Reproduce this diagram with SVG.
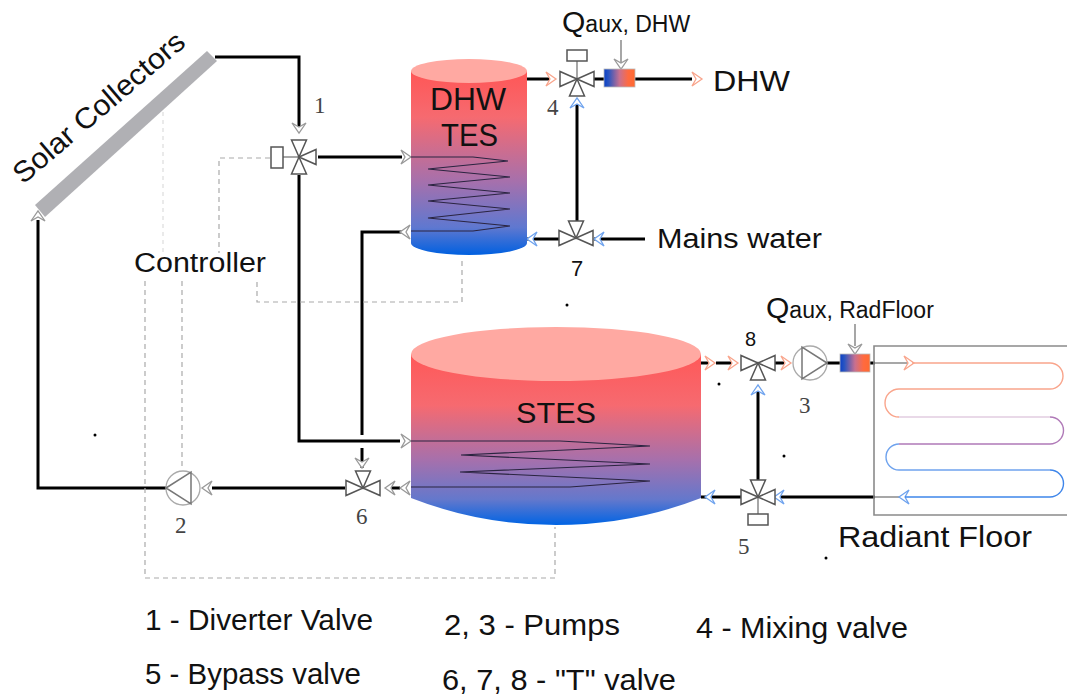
<svg xmlns="http://www.w3.org/2000/svg" xmlns:xlink="http://www.w3.org/1999/xlink" width="1067" height="697" viewBox="0 0 1067 697">
<style>
text{font-family:"Liberation Sans",Arial,sans-serif;fill:#111}
.num{font-family:"Liberation Serif","Times New Roman",serif;font-size:23px;fill:#444}
.leg{font-size:29px}
.pipe{fill:none;stroke:#000;stroke-width:3}
.thin{fill:none;stroke:#8a8a8a;stroke-width:1.5}
.dash{fill:none;stroke:#aaa;stroke-width:1.2;stroke-dasharray:5 4}
.tri{fill:#fff;stroke:#555;stroke-width:1.5}
.act{fill:#fff;stroke:#555;stroke-width:1.5}
.stem{stroke:#777;stroke-width:1.3;fill:none}
.chev{fill:#fff;stroke:#999;stroke-width:1.3}
.chev.o{stroke:#f9a58c}
.chev.b{stroke:#6fa3ee}
.coil{fill:none;stroke:#2a2440;stroke-width:1.1}
.rf{fill:none;stroke-width:1.4}
</style>
<defs>
<linearGradient id="gDhw" x1="0" y1="0" x2="0" y2="1"><stop offset="0" stop-color="#ff5656"/><stop offset=".25" stop-color="#f66a70"/><stop offset=".6" stop-color="#a670ac"/><stop offset=".85" stop-color="#5f78d0"/><stop offset="1" stop-color="#0060e0"/></linearGradient>
<linearGradient id="gSt" x1="0" y1="0" x2="0" y2="1"><stop offset="0" stop-color="#ff5858"/><stop offset=".3" stop-color="#f66a70"/><stop offset=".62" stop-color="#a670ac"/><stop offset=".85" stop-color="#6478cc"/><stop offset="1" stop-color="#0064e4"/></linearGradient>
<linearGradient id="gHeat" x1="0" y1="0" x2="1" y2="0"><stop offset="0" stop-color="#0a40c8"/><stop offset=".15" stop-color="#2b55c0"/><stop offset=".5" stop-color="#c87090"/><stop offset=".78" stop-color="#ff6a40"/><stop offset="1" stop-color="#ff6a30"/></linearGradient>
<path id="t" d="M0,0 L-17,-7.5 L-17,7.5 Z"/>
<path id="c" d="M-8,-7 L2,0 L-8,7 L-4,0 Z"/>
</defs>

<g id="connectors">
<path class="pipe" d="M215,57 H299 V130"/>
<path class="pipe" d="M299,175 V441 H400"/>
<path class="pipe" d="M318,157 H402"/>
<path class="pipe" d="M362,435 V232 H402"/>
<path class="pipe" d="M362,448 V468"/>
<path class="pipe" d="M345,488 H212"/>
<path class="pipe" d="M400,488 H388"/>
<path class="pipe" d="M166,488 H38 V220"/>
<path class="pipe" d="M527,79 H552"/>
<path class="pipe" d="M605,79 H592"/>
<path class="pipe" d="M635,79 H692"/>
<path class="pipe" d="M577,104 V222"/>
<path class="pipe" d="M527,239 H559"/>
<path class="pipe" d="M594,239 H645"/>
<path class="pipe" d="M701,363 H710"/>
<path class="pipe" d="M716,363 H735"/>
<path class="pipe" d="M775,363 H784"/>
<path class="pipe" d="M827,363 H840"/>
<path class="pipe" d="M870,363 H875"/>
<path class="pipe" d="M758,390 V480"/>
<path class="pipe" d="M701,497 H741"/>
<path class="pipe" d="M780,497 H875"/>
<path class="thin" d="M875,363 H910"/>
<path class="thin" d="M875,497 H900"/>
<path class="dash" d="M270,158 H219 V253"/>
<path class="dash" d="M257,282 V302 H462 V258"/>
<path class="dash" d="M145,281 V578 H555 V527"/>
<path class="dash" d="M182,281 V470"/>
<path d="M163,112 V252" fill="none" stroke="#ddd" stroke-width="1.2" stroke-dasharray="4 4"/>
<path class="stem" d="M621,40 V64"/>
<path class="stem" d="M855,324 V346"/>
<use href="#c" class="chev" transform="translate(299,131) rotate(90)"/>
<use href="#c" class="chev" transform="translate(409,157)"/>
<use href="#c" class="chev" transform="translate(402,232) rotate(180)"/>
<use href="#c" class="chev" transform="translate(409,441)"/>
<use href="#c" class="chev" transform="translate(402,488) rotate(180)"/>
<use href="#c" class="chev" transform="translate(38,213) rotate(-90)"/>
<use href="#c" class="chev" transform="translate(204,488) rotate(180)"/>
<use href="#c" class="chev" transform="translate(362,466) rotate(90)"/>
<use href="#c" class="chev" transform="translate(387,488) rotate(180)"/>
<use href="#c" class="chev" transform="translate(621,67) rotate(90)"/>
<use href="#c" class="chev" transform="translate(855,352) rotate(90)"/>
<use href="#c" class="chev o" transform="translate(554,79)"/>
<use href="#c" class="chev o" transform="translate(700,79)"/>
<use href="#c" class="chev b" transform="translate(577,100) rotate(-90)"/>
<use href="#c" class="chev b" transform="translate(529,239) rotate(180)"/>
<use href="#c" class="chev b" transform="translate(596,239) rotate(180)"/>
<use href="#c" class="chev o" transform="translate(713,363)"/>
<use href="#c" class="chev o" transform="translate(736,363)"/>
<use href="#c" class="chev o" transform="translate(789,363)"/>
<use href="#c" class="chev o" transform="translate(912,363)"/>
<use href="#c" class="chev b" transform="translate(758,387) rotate(-90)"/>
<use href="#c" class="chev b" transform="translate(707,497) rotate(180)"/>
<use href="#c" class="chev b" transform="translate(776,497) rotate(180)"/>
<use href="#c" class="chev b" transform="translate(901,497) rotate(180)"/>
</g>

<g id="solar-collectors">
<polygon points="207,51 217,61 45,217 35,205" fill="#b0b0b4"/>
<text transform="translate(23,185) rotate(-40.5)" font-size="29" textLength="216" lengthAdjust="spacingAndGlyphs">Solar Collectors</text>
</g>

<g id="dhw-tes">
<path d="M411,71 V243 A58,12 0 0 0 527,243 V71 Z" fill="url(#gDhw)"/>
<ellipse cx="469" cy="71" rx="58" ry="12" fill="#ffa9a2"/>
<path class="coil" d="M411,157 H473 L508,161 L428,169 L510,177 L428,185 L510,193 L428,201 L510,209 L428,218 L510,226 L473,231 H411"/>
<text x="430" y="110" font-size="31" textLength="76" lengthAdjust="spacingAndGlyphs">DHW</text>
<text x="441" y="146" font-size="31" textLength="57" lengthAdjust="spacingAndGlyphs">TES</text>
</g>

<g id="stes">
<path d="M411,354 V498 Q480,525 556,525 Q632,525 701,498 V354 Z" fill="url(#gSt)"/>
<ellipse cx="556" cy="354" rx="145" ry="27" fill="#ffa9a2"/>
<path class="coil" d="M411,441 H560 L650,446 L461,455 L650,464 L460,472 L650,481 L570,487 H411"/>
<text x="516" y="423" font-size="30" textLength="80" lengthAdjust="spacingAndGlyphs">STES</text>
</g>

<g id="radiant-floor">
<path d="M1067,346 H874 V515 H1067" fill="none" stroke="#8a8a8a" stroke-width="1.6"/>
<path class="rf" stroke="#f9a58c" d="M912,363 H1050 A13,13 0 0 1 1050,389 H899 A14,14 0 0 0 899,417"/>
<path class="rf" stroke="#e2cce0" d="M899,417 H1050"/>
<path class="rf" stroke="#b07ab8" d="M1050,417 A13.5,13.5 0 0 1 1050,444 H899"/>
<path class="rf" stroke="#6fa3ee" d="M899,444 A13,13 0 0 0 899,470 H1050"/>
<path class="rf" stroke="#3f86ea" d="M1050,470 A13.5,13.5 0 0 1 1050,497 H905"/>
<text x="838" y="547" font-size="29" textLength="194" lengthAdjust="spacingAndGlyphs">Radiant Floor</text>
</g>

<g id="valve-1">
<path class="stem" d="M281,157 H299"/>
<rect class="act" x="271" y="147" width="12" height="21"/>
<use href="#t" class="tri" transform="translate(299,157) rotate(90)"/>
<use href="#t" class="tri" transform="translate(299,157) rotate(-90)"/>
<use href="#t" class="tri" transform="translate(299,157) rotate(180)"/>
<text class="num" x="314" y="113">1</text>
</g>
<g id="valve-4">
<path class="stem" d="M577,61 V79"/>
<rect class="act" x="567" y="50" width="20" height="11"/>
<use href="#t" class="tri" transform="translate(577,79)"/>
<use href="#t" class="tri" transform="translate(577,79) rotate(180)"/>
<use href="#t" class="tri" transform="translate(577,79) rotate(-90)"/>
<text class="num" x="547" y="115">4</text>
</g>
<g id="valve-7">
<use href="#t" class="tri" transform="translate(576,238)"/>
<use href="#t" class="tri" transform="translate(576,238) rotate(180)"/>
<use href="#t" class="tri" transform="translate(576,238) rotate(90)"/>
<text x="571" y="276" font-size="22" fill="#333">7</text>
</g>
<g id="valve-8">
<use href="#t" class="tri" transform="translate(758,363)"/>
<use href="#t" class="tri" transform="translate(758,363) rotate(180)"/>
<use href="#t" class="tri" transform="translate(758,363) rotate(-90)"/>
<text x="745" y="346" font-size="20">8</text>
</g>
<g id="valve-5">
<path class="stem" d="M758,497 V514"/>
<rect class="act" x="748" y="514" width="20" height="11"/>
<use href="#t" class="tri" transform="translate(758,497)"/>
<use href="#t" class="tri" transform="translate(758,497) rotate(180)"/>
<use href="#t" class="tri" transform="translate(758,497) rotate(90)"/>
<text class="num" x="738" y="554">5</text>
</g>
<g id="valve-6">
<use href="#t" class="tri" transform="translate(363,488)"/>
<use href="#t" class="tri" transform="translate(363,488) rotate(180)"/>
<use href="#t" class="tri" transform="translate(363,488) rotate(90)"/>
<text class="num" x="356" y="524">6</text>
</g>

<g id="pump-2">
<circle cx="183" cy="488" r="17" fill="#fff" stroke="#aaa" stroke-width="1.3"/>
<path d="M166,488 L191,472 V504 Z" fill="none" stroke="#777" stroke-width="1.5"/>
<text class="num" x="175" y="533">2</text>
</g>
<g id="pump-3">
<circle cx="810" cy="363" r="17" fill="#fff" stroke="#aaa" stroke-width="1.3"/>
<path d="M827,363 L802,347 V379 Z" fill="none" stroke="#777" stroke-width="1.5"/>
<text class="num" x="799" y="413">3</text>
</g>

<g id="heater-dhw">
<rect x="604" y="69" width="31" height="18" fill="url(#gHeat)" stroke="#bbb" stroke-width=".8"/>
<text x="562" y="32" font-size="30">Q<tspan font-size="23">aux, DHW</tspan></text>
</g>
<g id="heater-radfloor">
<rect x="840" y="354" width="30" height="18" fill="url(#gHeat)" stroke="#bbb" stroke-width=".8"/>
<text x="766" y="318" font-size="30">Q<tspan font-size="23">aux, RadFloor</tspan></text>
</g>

<g id="controller">
<text x="134" y="272" font-size="27" textLength="132" lengthAdjust="spacingAndGlyphs">Controller</text>
</g>

<g id="labels">
<text x="713" y="91" font-size="30" textLength="77" lengthAdjust="spacingAndGlyphs">DHW</text>
<text x="657" y="248" font-size="27" textLength="165" lengthAdjust="spacingAndGlyphs">Mains water</text>
<text class="leg" x="145" y="630" textLength="228" lengthAdjust="spacingAndGlyphs">1 - Diverter Valve</text>
<text class="leg" x="444" y="635" textLength="176" lengthAdjust="spacingAndGlyphs">2, 3 - Pumps</text>
<text class="leg" x="696" y="638" textLength="212" lengthAdjust="spacingAndGlyphs">4 - Mixing valve</text>
<text class="leg" x="145" y="684" textLength="216" lengthAdjust="spacingAndGlyphs">5 - Bypass valve</text>
<text class="leg" x="442" y="690" textLength="234" lengthAdjust="spacingAndGlyphs">6, 7, 8 - "T" valve</text>
</g>

<g id="specks" fill="#000">
<circle cx="95" cy="435" r="1.5"/><circle cx="567" cy="305" r="1.5"/><circle cx="719" cy="384" r="1.5"/><circle cx="784" cy="456" r="1.5"/><circle cx="826" cy="558" r="1.5"/>
</g>
</svg>
